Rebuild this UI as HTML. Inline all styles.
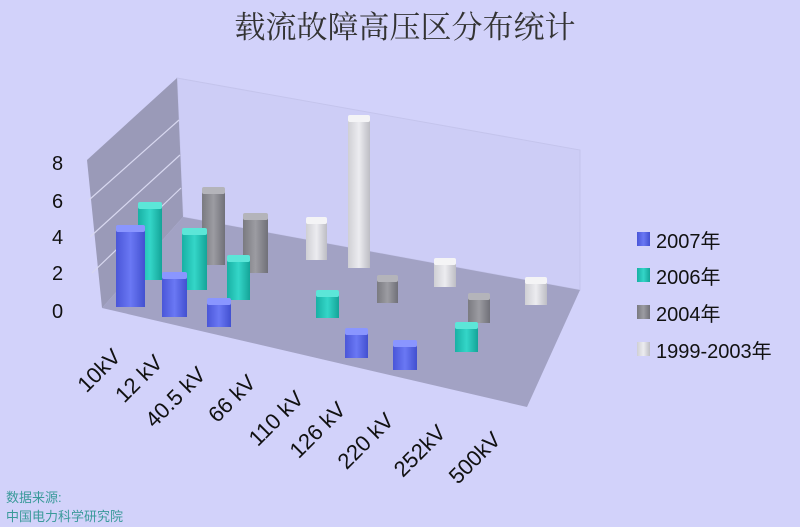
<!DOCTYPE html>
<html><head><meta charset="utf-8"><style>
body{margin:0;background:#d2d2fa;}
svg{display:block;font-family:"Liberation Sans","Noto Sans CJK SC",sans-serif;}
</style></head><body>
<svg width="800" height="527" viewBox="0 0 800 527" xmlns="http://www.w3.org/2000/svg">
<defs>
<linearGradient id="gb" x1="0" x2="1"><stop offset="0" stop-color="#4a56d8"/><stop offset="0.5" stop-color="#6a78f4"/><stop offset="1" stop-color="#4250d0"/></linearGradient>
<linearGradient id="gt" x1="0" x2="1"><stop offset="0" stop-color="#18b0a4"/><stop offset="0.5" stop-color="#34d6c8"/><stop offset="1" stop-color="#14a498"/></linearGradient>
<linearGradient id="gg" x1="0" x2="1"><stop offset="0" stop-color="#7a7a80"/><stop offset="0.5" stop-color="#9c9ca2"/><stop offset="1" stop-color="#707078"/></linearGradient>
<linearGradient id="gl" x1="0" x2="1"><stop offset="0" stop-color="#cfcfd4"/><stop offset="0.5" stop-color="#ececf0"/><stop offset="1" stop-color="#bdbdc4"/></linearGradient>
</defs>
<rect width="800" height="527" fill="#d2d2fa"/>
<text x="405" y="38" font-size="31" text-anchor="middle" fill="#333" font-family="'Noto Serif CJK SC',serif">载流故障高压区分布统计</text>
<!-- back wall -->
<polygon points="177,78 580,150 580,290 183,217" fill="#cdcdf6" stroke="#c4c4ec"/>
<!-- left wall -->
<polygon points="87,160 177,78 183,217 102,308" fill="#9a9ab8"/>
<g stroke="#d8d8f0" stroke-width="1.2">
<line x1="89" y1="200" x2="179" y2="120"/>
<line x1="90" y1="237" x2="180" y2="155"/>
<line x1="92" y1="273" x2="181" y2="188"/>
</g>
<!-- floor -->
<polygon points="183,217 580,290 527,407 102,308" fill="#a2a2c4"/>
<g font-size="20" fill="#111">
<text x="52" y="170">8</text><text x="52" y="208">6</text><text x="52" y="244">4</text><text x="52" y="280">2</text><text x="52" y="318">0</text>
</g>
<g>
<rect x="306" y="221" width="21" height="39" fill="url(#gl)"/><rect x="306" y="217" width="21" height="7" rx="2" fill="#f4f4f6"/>
<rect x="348" y="119" width="22" height="149" fill="url(#gl)"/><rect x="348" y="115" width="22" height="7" rx="2" fill="#f4f4f6"/>
<rect x="434" y="262" width="22" height="25" fill="url(#gl)"/><rect x="434" y="258" width="22" height="7" rx="2" fill="#f4f4f6"/>
<rect x="525" y="281" width="22" height="24" fill="url(#gl)"/><rect x="525" y="277" width="22" height="7" rx="2" fill="#f4f4f6"/>
<rect x="202" y="191" width="23" height="74" fill="url(#gg)"/><rect x="202" y="187" width="23" height="7" rx="2" fill="#b4b4ba"/>
<rect x="243" y="217" width="25" height="56" fill="url(#gg)"/><rect x="243" y="213" width="25" height="7" rx="2" fill="#b4b4ba"/>
<rect x="377" y="279" width="21" height="24" fill="url(#gg)"/><rect x="377" y="275" width="21" height="7" rx="2" fill="#b4b4ba"/>
<rect x="468" y="297" width="22" height="26" fill="url(#gg)"/><rect x="468" y="293" width="22" height="7" rx="2" fill="#b4b4ba"/>
<rect x="138" y="206" width="24" height="74" fill="url(#gt)"/><rect x="138" y="202" width="24" height="7" rx="2" fill="#5ce6d8"/>
<rect x="182" y="232" width="25" height="58" fill="url(#gt)"/><rect x="182" y="228" width="25" height="7" rx="2" fill="#5ce6d8"/>
<rect x="227" y="259" width="23" height="41" fill="url(#gt)"/><rect x="227" y="255" width="23" height="7" rx="2" fill="#5ce6d8"/>
<rect x="316" y="294" width="23" height="24" fill="url(#gt)"/><rect x="316" y="290" width="23" height="7" rx="2" fill="#5ce6d8"/>
<rect x="455" y="326" width="23" height="26" fill="url(#gt)"/><rect x="455" y="322" width="23" height="7" rx="2" fill="#5ce6d8"/>
<rect x="116" y="229" width="29" height="78" fill="url(#gb)"/><rect x="116" y="225" width="29" height="7" rx="2" fill="#8a96ff"/>
<rect x="162" y="276" width="25" height="41" fill="url(#gb)"/><rect x="162" y="272" width="25" height="7" rx="2" fill="#8a96ff"/>
<rect x="207" y="302" width="24" height="25" fill="url(#gb)"/><rect x="207" y="298" width="24" height="7" rx="2" fill="#8a96ff"/>
<rect x="345" y="332" width="23" height="26" fill="url(#gb)"/><rect x="345" y="328" width="23" height="7" rx="2" fill="#8a96ff"/>
<rect x="393" y="344" width="24" height="26" fill="url(#gb)"/><rect x="393" y="340" width="24" height="7" rx="2" fill="#8a96ff"/>
</g>
<g font-size="22" fill="#111" text-anchor="end">
<text transform="translate(122,358) rotate(-45)">10kV</text>
<text transform="translate(164,364) rotate(-45)">12 kV</text>
<text transform="translate(207,376) rotate(-45)">40.5 kV</text>
<text transform="translate(257,384) rotate(-45)">66 kV</text>
<text transform="translate(305,400) rotate(-45)">110 kV</text>
<text transform="translate(347,411) rotate(-45)">126 kV</text>
<text transform="translate(395,422) rotate(-45)">220 kV</text>
<text transform="translate(447,434) rotate(-45)">252kV</text>
<text transform="translate(502,441) rotate(-45)">500kV</text>
</g>
<g font-size="20" fill="#111">
<rect x="637" y="232" width="13" height="14" fill="url(#gb)"/><text x="656" y="248">2007年</text>
<rect x="637" y="268" width="13" height="14" fill="url(#gt)"/><text x="656" y="284">2006年</text>
<rect x="637" y="305" width="13" height="14" fill="url(#gg)"/><text x="656" y="321">2004年</text>
<rect x="637" y="342" width="13" height="14" fill="url(#gl)"/><text x="656" y="358">1999-2003年</text>
</g>
<g font-size="13" fill="#3a9a9a">
<text x="6" y="502">数据来源:</text>
<text x="6" y="521">中国电力科学研究院</text>
</g>
</svg>
</body></html>
